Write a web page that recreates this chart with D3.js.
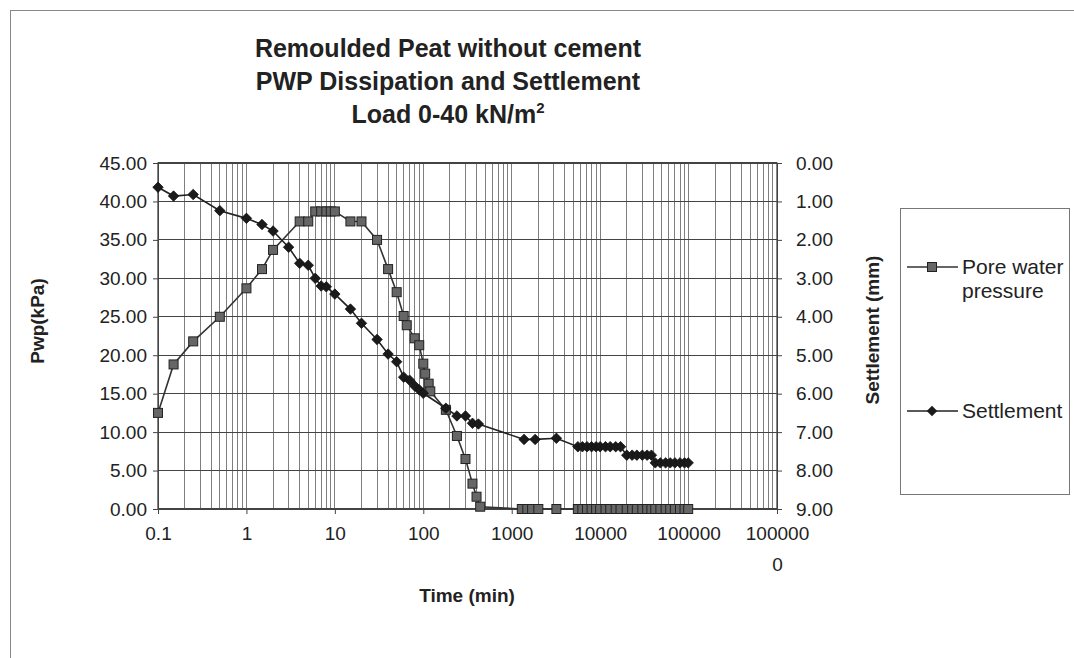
<!DOCTYPE html>
<html><head><meta charset="utf-8">
<script src="https://cdn.jsdelivr.net/npm/d3@7"></script>
<style>body{margin:0;background:#fff}svg{display:block}text{font-family:"Liberation Sans",Arial,sans-serif;fill:#222}</style>
</head><body><svg id="c" width="1074" height="658"></svg>
<script>
const titleLines = ["Remoulded Peat without cement", "PWP Dissipation and Settlement", "Load 0-40 kN/m"];
const xTickValues = [0.1, 1, 10, 100, 1000, 10000, 100000, 1000000];
const xTickLabels = ["0.1", "1", "10", "100", "1000", "10000", "100000", "100000|0"];
const pwpTicks = [0, 5, 10, 15, 20, 25, 30, 35, 40, 45];
const settleTicks = [0, 1, 2, 3, 4, 5, 6, 7, 8, 9];
const tailTimes = [5600, 6300, 7100, 8000, 9000, 10000, 11500, 13000, 15000, 17000, 20000, 23000, 26000, 30000, 34000, 38000, 42000, 48000, 55000, 62000, 70000, 80000, 90000, 99000];

const pwpTime = [0.1, 0.15, 0.25, 0.5, 1, 1.5, 2, 4, 5, 6, 7, 8, 9, 10, 15, 20, 30, 40, 50, 60, 65, 80, 90, 100, 105, 115, 120, 180, 240, 300, 360, 400, 440, 1300, 1500, 1700, 2000, 3200].concat(tailTimes);
const pwpValue = [12.5, 18.8, 21.8, 25.0, 28.7, 31.2, 33.7, 37.4, 37.4, 38.7, 38.7, 38.7, 38.7, 38.7, 37.4, 37.4, 35.0, 31.2, 28.2, 25.1, 23.9, 22.2, 21.3, 18.9, 17.6, 16.3, 15.3, 12.9, 9.5, 6.5, 3.3, 1.6, 0.3, 0, 0, 0, 0, 0,
  0, 0, 0, 0, 0, 0, 0, 0, 0, 0, 0, 0, 0, 0, 0, 0, 0, 0, 0, 0, 0, 0, 0, 0];

const settleTime = [0.1, 0.15, 0.25, 0.5, 1, 1.5, 2, 3, 4, 5, 6, 7, 8, 10, 15, 20, 30, 40, 50, 60, 70, 80, 90, 100, 180, 240, 300, 360, 420, 1380, 1840, 3200].concat(tailTimes);
const settleValue = [0.63, 0.86, 0.82, 1.24, 1.44, 1.6, 1.77, 2.19, 2.61, 2.66, 3.0, 3.2, 3.22, 3.41, 3.8, 4.17, 4.59, 4.97, 5.17, 5.57, 5.65, 5.8, 5.9, 5.99, 6.38, 6.58, 6.58, 6.77, 6.79, 7.19, 7.19, 7.16,
  7.38, 7.38, 7.38, 7.38, 7.38, 7.38, 7.38, 7.38, 7.38, 7.38, 7.6, 7.6, 7.6, 7.6, 7.6, 7.6, 7.8, 7.8, 7.8, 7.8, 7.8, 7.8, 7.8, 7.8];

const svg = d3.select("#c");
const L = 158, R = 777, T = 163, B = 509;
const x = d3.scaleLog().domain([0.1, 1e6]).range([L, R]);
const yL = d3.scaleLinear().domain([0, 45]).range([B, T]);
const yR = d3.scaleLinear().domain([0, 9]).range([T, B]);

// outer chart frame
svg.append("rect").attr("x", 10.5).attr("y", 10.5).attr("width", 1100).attr("height", 700)
  .attr("fill", "none").attr("stroke", "#888").attr("stroke-width", 1);

// title
const title = svg.append("g");
titleLines.forEach((t, i) => {
  const tx = title.append("text").attr("x", 448).attr("y", 57 + i * 33)
    .attr("text-anchor", "middle").attr("font-size", 25).attr("font-weight", "bold").attr("fill", "#3a3a3a")
    .text(t);
  if (i === 2) tx.append("tspan").attr("dy", -10).attr("font-size", 15).text("2");
});

// vertical grid (log minor)
const minor = [];
for (let e = -1; e < 6; e++) for (let k = 1; k <= 9; k++) minor.push(k * Math.pow(10, e));
minor.push(1e6);
svg.append("g").selectAll("line").data(minor).join("line")
  .attr("x1", d => x(d)).attr("x2", d => x(d)).attr("y1", T).attr("y2", B)
  .attr("stroke", "#7f7f7f").attr("stroke-width", 1).attr("shape-rendering", "crispEdges");

// horizontal grid
svg.append("g").selectAll("line").data(pwpTicks).join("line")
  .attr("x1", L).attr("x2", R).attr("y1", d => yL(d)).attr("y2", d => yL(d))
  .attr("stroke", "#444").attr("stroke-width", 1.2).attr("shape-rendering", "crispEdges");

// frame
svg.append("rect").attr("x", L).attr("y", T).attr("width", R - L).attr("height", B - T)
  .attr("fill", "none").attr("stroke", "#444").attr("stroke-width", 1.3);

// axes
const axL = svg.append("g").attr("transform", `translate(${L},0)`)
  .call(d3.axisLeft(yL).tickValues(pwpTicks).tickFormat(d3.format(".2f")).tickSize(5).tickPadding(6));
const axR = svg.append("g").attr("transform", `translate(${R},0)`)
  .call(d3.axisRight(yR).tickValues(settleTicks).tickFormat(d3.format(".2f")).tickSize(5).tickPadding(14));
const axB = svg.append("g").attr("transform", `translate(0,${B})`)
  .call(d3.axisBottom(x).tickValues(xTickValues).tickFormat("").tickSize(5));
[axL, axR, axB].forEach(a => {
  a.select(".domain").attr("stroke", "#444");
  a.selectAll(".tick line").attr("stroke", "#444");
  a.selectAll("text").attr("font-size", 19).attr("fill", "#444").attr("font-family", "Liberation Sans, Arial, sans-serif");
});
// bottom labels (multi-line)
axB.selectAll(".tick").each(function(d, i) {
  const parts = xTickLabels[i].split("|");
  const g = d3.select(this);
  g.select("text").remove();
  parts.forEach((p, j) => g.append("text").attr("y", 25 + j * 31).attr("text-anchor", "middle")
    .attr("font-size", 19).attr("fill", "#444").attr("dy", "0.32em").text(p));
});

// axis titles
svg.append("text").attr("transform", "translate(44,321) rotate(-90)").attr("text-anchor", "middle")
  .attr("font-size", 19).attr("font-weight", "bold").attr("fill", "#333").text("Pwp(kPa)");
svg.append("text").attr("transform", "translate(879,330) rotate(-90)").attr("text-anchor", "middle")
  .attr("font-size", 19).attr("font-weight", "bold").attr("fill", "#333").text("Settlement (mm)");
svg.append("text").attr("x", 467).attr("y", 602).attr("text-anchor", "middle")
  .attr("font-size", 19).attr("font-weight", "bold").attr("fill", "#333").text("Time (min)");

// series
const pwpData = pwpTime.map((t, i) => [t, pwpValue[i]]);
const setData = settleTime.map((t, i) => [t, settleValue[i]]);
svg.append("path").datum(pwpData).attr("fill", "none").attr("stroke", "#333").attr("stroke-width", 1.6)
  .attr("d", d3.line().x(d => x(d[0])).y(d => yL(d[1])));
svg.append("path").datum(setData).attr("fill", "none").attr("stroke", "#222").attr("stroke-width", 1.6)
  .attr("d", d3.line().x(d => x(d[0])).y(d => yR(d[1])));
const sq = 9;
svg.append("g").selectAll("rect").data(pwpData).join("rect")
  .attr("x", d => x(d[0]) - sq / 2).attr("y", d => yL(d[1]) - sq / 2).attr("width", sq).attr("height", sq)
  .attr("fill", "#666").attr("stroke", "#222").attr("stroke-width", 1);
const diamond = d3.symbol().type(d3.symbolDiamond2).size(70);
svg.append("g").selectAll("path").data(setData).join("path")
  .attr("transform", d => `translate(${x(d[0])},${yR(d[1])})`).attr("d", diamond)
  .attr("fill", "#1a1a1a").attr("stroke", "#111").attr("stroke-width", 0.8);

// legend
const lg = svg.append("g");
lg.append("rect").attr("x", 900.5).attr("y", 208.5).attr("width", 169).attr("height", 286)
  .attr("fill", "#fff").attr("stroke", "#777").attr("stroke-width", 1);
lg.append("line").attr("x1", 907).attr("x2", 958).attr("y1", 267).attr("y2", 267).attr("stroke", "#333").attr("stroke-width", 1.6);
lg.append("rect").attr("x", 932 - 4.5).attr("y", 267 - 4.5).attr("width", 9).attr("height", 9).attr("fill", "#666").attr("stroke", "#222");
lg.append("text").attr("x", 962).attr("y", 274).attr("font-size", 21).attr("fill", "#444").text("Pore water");
lg.append("text").attr("x", 962).attr("y", 298).attr("font-size", 21).attr("fill", "#444").text("pressure");
lg.append("line").attr("x1", 907).attr("x2", 958).attr("y1", 411).attr("y2", 411).attr("stroke", "#222").attr("stroke-width", 1.6);
lg.append("path").attr("transform", "translate(932,411)").attr("d", diamond).attr("fill", "#1a1a1a");
lg.append("text").attr("x", 962).attr("y", 418).attr("font-size", 21).attr("fill", "#444").text("Settlement");
</script></body></html>
